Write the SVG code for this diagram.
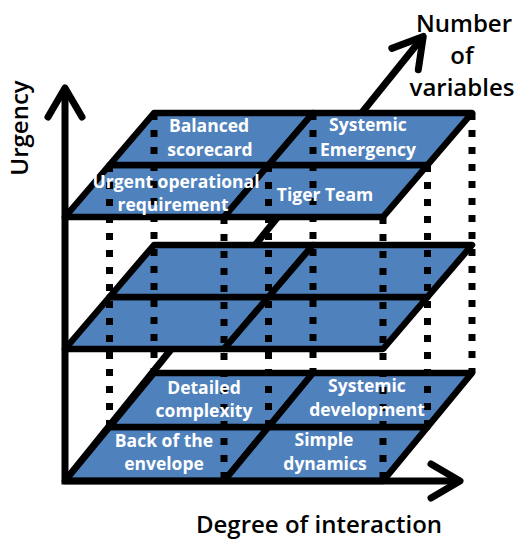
<svg xmlns="http://www.w3.org/2000/svg" width="515" height="539" viewBox="0 0 515 539">
  <style>
    .cell { fill: #4F81BD; stroke: #000; stroke-width: 6.5; stroke-linejoin: round; }
    .dot { stroke: #000; stroke-width: 7; stroke-dasharray: 7 10; fill: none; }
    .axis { stroke: #000; stroke-width: 7; fill: none; stroke-linejoin: miter; }
    .lbl { fill: #fff; font-family: "Open Sans", "Noto Sans", sans-serif; font-weight: 700; font-size: 17.5px; text-anchor: middle; }
    .ax { fill: #000; font-family: "Open Sans", "Noto Sans", sans-serif; font-weight: 600; font-size: 24px; text-anchor: middle; }
  </style>
  <defs>
    <marker id="arrow" markerUnits="userSpaceOnUse" viewBox="-40 -30 50 60" markerWidth="50" markerHeight="60" refX="0" refY="0" orient="auto-start-reverse" overflow="visible">
      <path d="M-27,-17 L2,0 L-27,17" fill="none" stroke="#000" stroke-width="7" stroke-linecap="round" stroke-linejoin="round"/>
    </marker>
  </defs>

  <!-- depth axis (Number of variables), behind the planes -->
  <g id="depth-axis">
    <line class="axis" x1="65" y1="481" x2="422" y2="38" marker-end="url(#arrow)"/>
  </g>

  <!-- bottom plane -->
  <g id="plane-bottom">
    <g id="cell-back-of-the-envelope"><polygon class="cell" points="65,481 224,481 268.5,427 109.5,427"/></g>
    <g id="cell-simple-dynamics"><polygon class="cell" points="224,481 383,481 427.5,427 268.5,427"/></g>
    <g id="cell-detailed-complexity"><polygon class="cell" points="109.5,427 268.5,427 313,373 154,373"/></g>
    <g id="cell-systemic-development"><polygon class="cell" points="268.5,427 427.5,427 472,373 313,373"/></g>
  </g>

  <!-- middle plane -->
  <g id="plane-middle">
    <g id="cell-mid-front-left"><polygon class="cell" points="65,349 224,349 268.5,297 109.5,297"/></g>
    <g id="cell-mid-front-right"><polygon class="cell" points="224,349 383,349 427.5,297 268.5,297"/></g>
    <g id="cell-mid-back-left"><polygon class="cell" points="109.5,297 268.5,297 313,245 154,245"/></g>
    <g id="cell-mid-back-right"><polygon class="cell" points="268.5,297 427.5,297 472,245 313,245"/></g>
  </g>

  <!-- top plane -->
  <g id="plane-top">
    <g id="cell-urgent-operational-requirement"><polygon class="cell" points="65,217 224,217 268.5,165 109.5,165"/></g>
    <g id="cell-tiger-team"><polygon class="cell" points="224,217 383,217 427.5,165 268.5,165"/></g>
    <g id="cell-balanced-scorecard"><polygon class="cell" points="109.5,165 268.5,165 313,113 154,113"/></g>
    <g id="cell-systemic-emergency"><polygon class="cell" points="268.5,165 427.5,165 472,113 313,113"/></g>
  </g>

  <!-- connectors: dotted verticals and axes -->
  <g id="connectors">
    <line class="dot" x1="109.5" y1="165" x2="109.5" y2="427"/>
    <line class="dot" x1="154" y1="113" x2="154" y2="373"/>
    <line class="dot" x1="224" y1="217" x2="224" y2="481"/>
    <line class="dot" x1="268.5" y1="165" x2="268.5" y2="427"/>
    <line class="dot" x1="313" y1="113" x2="313" y2="373"/>
    <line class="dot" x1="383" y1="217" x2="383" y2="481"/>
    <line class="dot" x1="427.5" y1="165" x2="427.5" y2="427"/>
    <line class="dot" x1="472" y1="113" x2="472" y2="373"/>
    <path class="axis" d="M65,90 V481 H458" marker-start="url(#arrow)" marker-end="url(#arrow)"/>
  </g>

  <!-- labels -->
  <g id="labels">
    <g id="label-balanced-scorecard">
      <text class="lbl" x="209" y="132">Balanced</text>
      <text class="lbl" x="210" y="156">scorecard</text>
    </g>
    <g id="label-systemic-emergency">
      <text class="lbl" x="368" y="131">Systemic</text>
      <text class="lbl" x="368" y="156">Emergency</text>
    </g>
    <g id="label-urgent-operational-requirement">
      <text class="lbl" x="176" y="188">Urgent  operational</text>
      <text class="lbl" x="173" y="211">requirement</text>
    </g>
    <g id="label-tiger-team">
      <text class="lbl" x="325" y="201">Tiger Team</text>
    </g>
    <g id="label-detailed-complexity">
      <text class="lbl" x="204" y="394">Detailed</text>
      <text class="lbl" x="204" y="417">complexity</text>
    </g>
    <g id="label-systemic-development">
      <text class="lbl" x="367" y="392">Systemic</text>
      <text class="lbl" x="367" y="416">development</text>
    </g>
    <g id="label-back-of-the-envelope">
      <text class="lbl" x="164" y="447">Back of the</text>
      <text class="lbl" x="164" y="470">envelope</text>
    </g>
    <g id="label-simple-dynamics">
      <text class="lbl" x="324" y="446">Simple</text>
      <text class="lbl" x="325" y="470">dynamics</text>
    </g>
    <g id="label-axes">
      <text class="ax" transform="translate(28,128) rotate(-90)">Urgency</text>
      <text class="ax" x="464" y="32">Number</text>
      <text class="ax" x="462" y="64">of</text>
      <text class="ax" x="462" y="96">variables</text>
      <text class="ax" x="319" y="533">Degree of interaction</text>
    </g>
  </g>
</svg>
